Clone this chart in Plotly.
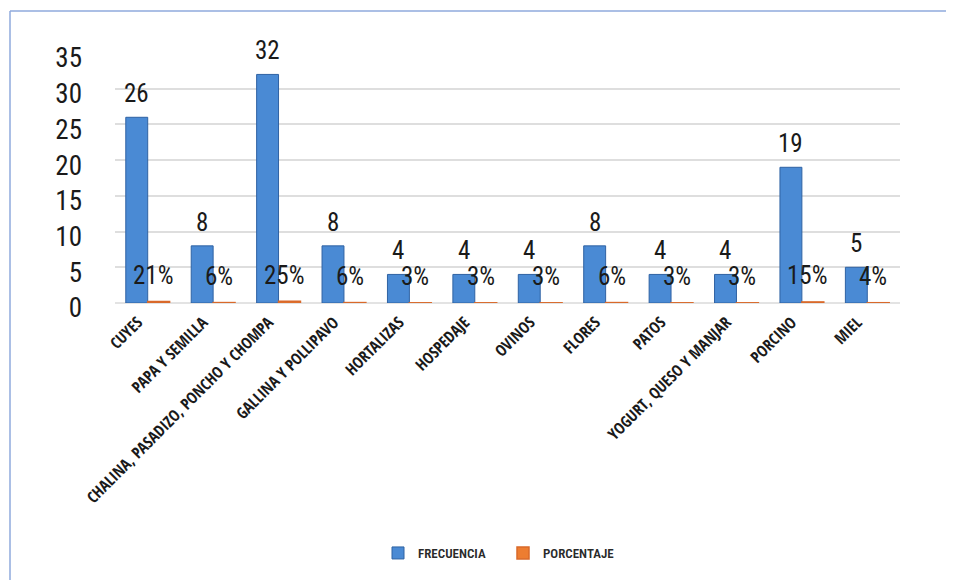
import plotly.graph_objects as go

categories = ["CUYES", "PAPA Y SEMILLA", "CHALINA, PASADIZO, PONCHO Y CHOMPA",
              "GALLINA Y POLLIPAVO", "HORTALIZAS", "HOSPEDAJE", "OVINOS", "FLORES",
              "PATOS", "YOGURT, QUESO Y MANJAR", "PORCINO", "MIEL"]
frecuencia = [26, 8, 32, 8, 4, 4, 4, 8, 4, 4, 19, 5]
porcentaje = [0.21, 0.06, 0.25, 0.06, 0.03, 0.03, 0.03, 0.06, 0.03, 0.03, 0.15, 0.04]
y_ticks = [0, 5, 10, 15, 20, 25, 30, 35]

FONT = "Roboto Condensed, Open Sans Condensed, sans-serif"
FONT_X = "Open Sans Condensed, Roboto Condensed, sans-serif"

fig = go.Figure()
fig.add_trace(go.Bar(
    name="FRECUENCIA", x=categories, y=frecuencia,
    marker=dict(color="#4A8AD4", line=dict(color="#2F62A3", width=1)),
))
fig.add_trace(go.Bar(
    name="PORCENTAJE", x=categories, y=porcentaje,
    marker=dict(color="#ED7D31", line=dict(color="#D9692A", width=1.5)),
))

annotations = []
for c, f, p in zip(categories, frecuencia, porcentaje):
    annotations.append(dict(x=c, y=f, xref="x", yref="y", text=str(f), showarrow=False,
                            yanchor="bottom", xshift=-11, yshift=7,
                            font=dict(family=FONT, size=25, color="#1a1a1a")))
    annotations.append(dict(x=c, y=p, xref="x", yref="y", text=f"{round(p*100)}%",
                            showarrow=False, yanchor="middle", xshift=6, yshift=26,
                            font=dict(family=FONT, size=25, color="#1a1a1a")))

L, R, T, B = 107, 62, 45, 285
pw = 954 - L - R
ph = 580 - T - B

def px_x(px):
    return (px - L) / pw

def px_y(py):
    return (580 - B - py) / ph

fig.update_layout(
    width=954, height=580,
    margin=dict(l=L, r=R, t=T, b=B, autoexpand=False),
    paper_bgcolor="white", plot_bgcolor="white",
    barmode="group", bargap=0.33, bargroupgap=0.0,
    font=dict(family=FONT, color="#1a1a1a"),
    annotations=annotations,
    legend=dict(orientation="h", x=px_x(370), y=px_y(545), xanchor="left", yanchor="middle",
                font=dict(family=FONT, size=13, color="#2a2a2a", weight=600), itemwidth=30,
                entrywidth=80, entrywidthmode="pixels"),
    shapes=[
        dict(type="line", xref="paper", yref="paper", x0=px_x(2), x1=px_x(1000),
             y0=px_y(3), y1=px_y(3), line=dict(color="#8FAADC", width=1.5)),
        dict(type="line", xref="paper", yref="paper", x0=px_x(2), x1=px_x(2),
             y0=px_y(3), y1=px_y(640), line=dict(color="#8FAADC", width=1.5)),
    ],
)
fig.update_xaxes(
    tickangle=-45, tickfont=dict(family=FONT_X, size=16, color="#1a1a1a"),
    showline=False, showgrid=False, ticks="", ticklabelstandoff=6, ticklabelshift=-10,
)
fig.update_yaxes(
    range=[0, 35], tickvals=y_ticks, ticktext=[str(v) for v in y_ticks],
    tickfont=dict(family=FONT, size=27, color="#1a1a1a"),
    showgrid=True, gridcolor="#dedede", gridwidth=2,
    zeroline=True, zerolinecolor="#e3e3e3", zerolinewidth=2,
    showline=False, ticks="", ticklabelstandoff=32, ticklabelshift=5,
)

fig.write_html("out.html")
